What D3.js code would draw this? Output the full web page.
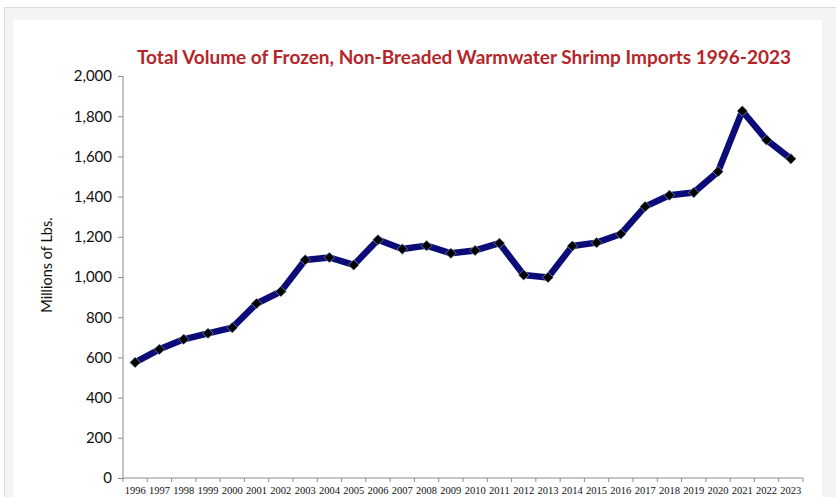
<!DOCTYPE html>
<html><head><meta charset="utf-8">
<script src="https://cdn.jsdelivr.net/npm/d3@7"></script>
<style>html,body{margin:0;padding:0;background:#fff;}svg{display:block;}</style>
</head><body>
<svg id="c" width="836" height="497"></svg>
<script>
const years = ["1996","1997","1998","1999","2000","2001","2002","2003","2004","2005","2006","2007","2008","2009","2010","2011","2012","2013","2014","2015","2016","2017","2018","2019","2020","2021","2022","2023"];
const volumes = [575,640,690,720,748,868,928,1085,1097,1060,1185,1139,1156,1118,1132,1168,1010,998,1154,1171,1214,1350,1407,1420,1524,1826,1682,1588];
const yTicks = [0,200,400,600,800,1000,1200,1400,1600,1800,2000];
const title = "Total Volume of Frozen, Non-Breaded Warmwater Shrimp Imports 1996-2023";
const yLabel = "Millions of Lbs.";

const svg = d3.select("#c");
// frame
svg.append("rect").attr("x",4.5).attr("y",7.5).attr("width",840).attr("height",500).attr("fill","#f4f4f4").attr("stroke","#dcdcdc");
svg.append("rect").attr("x",13).attr("y",20).attr("width",809).attr("height",490).attr("fill","#fff");

const x = d3.scaleBand().domain(years).range([123,803]);
const y = d3.scaleLinear().domain([0,2000]).range([478,76]);

// y axis
const ya = svg.append("g").attr("transform","translate(123,0)")
  .call(d3.axisLeft(y).tickValues(yTicks).tickSize(5).tickPadding(6).tickFormat(d3.format(",")));
ya.selectAll("path,line").attr("stroke","#8c8c8c");
ya.select("path").attr("d","M0,76V478");
ya.selectAll("text").attr("font-family","Lato, 'Open Sans', sans-serif").attr("font-size","15px").attr("fill","#111");

// x axis
const xa = svg.append("g").attr("transform","translate(0,478)")
  .call(d3.axisBottom(x).tickSize(0).tickPadding(9));
xa.select("path").attr("stroke","#8c8c8c").attr("d","M123,0H803");
xa.selectAll("text").attr("font-family","'Liberation Serif', 'Times New Roman', serif").attr("font-size","10.5px").attr("fill","#111");
xa.selectAll(".bt").data(d3.range(years.length+1)).enter().append("line")
  .attr("x1",i=>123+i*x.step()).attr("x2",i=>123+i*x.step()).attr("y1",0).attr("y2",4).attr("stroke","#8c8c8c");

// line
const pts = years.map((yr,i)=>({yr, v:volumes[i]}));
const line = d3.line().x(d=>x(d.yr)+x.bandwidth()/2).y(d=>y(d.v));
svg.append("path").datum(pts).attr("d",line).attr("fill","none").attr("stroke","#0c0c78").attr("stroke-width",6.5).attr("stroke-linejoin","round");

// markers
svg.selectAll(".m").data(pts).enter().append("path")
  .attr("transform",d=>`translate(${x(d.yr)+x.bandwidth()/2},${y(d.v)})`)
  .attr("d",d3.symbol().type(d3.symbolDiamond2).size(72))
  .attr("fill","#000").attr("stroke","#9ab8d8").attr("stroke-width",0.6);

// title
svg.append("text").attr("x",464).attr("y",64).attr("text-anchor","middle")
  .attr("font-family","Lato, 'Open Sans', sans-serif").attr("font-weight","bold").attr("font-size","19px")
  .attr("fill","#b5262a").text(title);

// y label
svg.append("text").attr("transform","translate(52,265) rotate(-90)").attr("text-anchor","middle")
  .attr("font-family","Lato, 'Open Sans', sans-serif").attr("font-size","14.5px").attr("fill","#111").text(yLabel);
</script>
</body></html>
